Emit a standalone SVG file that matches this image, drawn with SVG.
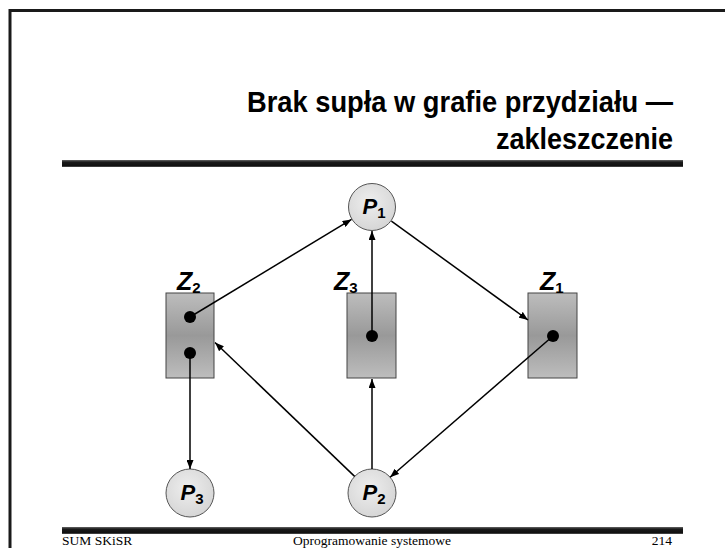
<svg xmlns="http://www.w3.org/2000/svg" width="725" height="548" viewBox="0 0 725 548">
<defs>
<linearGradient id="bar" x1="0" y1="0" x2="0" y2="1">
<stop offset="0" stop-color="#666"/><stop offset="0.3" stop-color="#1a1a1a"/><stop offset="0.8" stop-color="#111"/><stop offset="1" stop-color="#555"/>
</linearGradient>
<linearGradient id="res" x1="0" y1="0" x2="0" y2="1">
<stop offset="0" stop-color="#bdbdbd"/><stop offset="0.5" stop-color="#999"/><stop offset="1" stop-color="#bdbdbd"/>
</linearGradient>
<radialGradient id="proc" cx="0.45" cy="0.4" r="0.6">
<stop offset="0" stop-color="#eeeeee"/><stop offset="1" stop-color="#d6d6d6"/>
</radialGradient>
<marker id="ah" markerUnits="userSpaceOnUse" markerWidth="9" markerHeight="7" refX="9" refY="3.5" orient="auto">
<path d="M0,0 L9,3.5 L0,7 z" fill="#000"/>
</marker>
</defs>
<style>
.title{font-family:"Liberation Sans",Arial,sans-serif;font-weight:bold;font-size:29px;fill:#000}
.foot{font-family:"Liberation Serif","Times New Roman",serif;font-size:13.5px;fill:#000}
.lbl{font-family:"Liberation Sans",Arial,sans-serif;font-weight:bold;font-style:italic;font-size:22px;fill:#000}
.zl{font-size:25px}
.sub{font-style:normal;font-size:15px}
.res{fill:url(#res);stroke:#444;stroke-width:1}
.proc{fill:url(#proc);stroke:#555;stroke-width:1}
.dot{fill:#000}
.edge{stroke:#000;stroke-width:1.5;fill:none;marker-end:url(#ah)}
</style>
<rect x="0" y="0" width="725" height="548" fill="#fff"/>
<path d="M10,548 V10.5 H725" fill="none" stroke="#1a1a1a" stroke-width="3"/>
<text class="title" x="673" y="112" text-anchor="end" textLength="426" lengthAdjust="spacingAndGlyphs">Brak supła w grafie przydziału —</text>
<text class="title" x="673" y="149" text-anchor="end" textLength="177" lengthAdjust="spacingAndGlyphs">zakleszczenie</text>
<rect x="62" y="160" width="621" height="7" fill="url(#bar)"/>
<rect x="62" y="527" width="621" height="7" fill="url(#bar)"/>
<text class="foot" x="62" y="545">SUM SKiSR</text>
<text class="foot" x="372" y="545" text-anchor="middle">Oprogramowanie systemowe</text>
<text class="foot" x="672" y="545" text-anchor="end">214</text>
<g id="Z2">
<rect class="res" x="166" y="293" width="48" height="85"/>
<circle class="dot" cx="190" cy="317" r="6"/>
<circle class="dot" cx="190" cy="353" r="6"/>
<text class="lbl zl" x="177" y="290">Z<tspan class="sub" dy="3">2</tspan></text>
</g>
<g id="Z3">
<rect class="res" x="347" y="293" width="49" height="85"/>
<circle class="dot" cx="372" cy="336" r="6"/>
<text class="lbl zl" x="334" y="290">Z<tspan class="sub" dy="3">3</tspan></text>
</g>
<g id="Z1">
<rect class="res" x="528" y="293" width="49" height="85"/>
<circle class="dot" cx="553" cy="336" r="6"/>
<text class="lbl zl" x="540" y="290">Z<tspan class="sub" dy="3">1</tspan></text>
</g>
<g id="P1">
<circle class="proc" cx="372" cy="207" r="23.5"/>
<text class="lbl" x="374" y="214" text-anchor="middle">P<tspan class="sub" dy="4">1</tspan></text>
</g>
<g id="P3">
<circle class="proc" cx="190" cy="493" r="24"/>
<text class="lbl" x="192" y="500" text-anchor="middle">P<tspan class="sub" dy="4">3</tspan></text>
</g>
<g id="P2">
<circle class="proc" cx="372" cy="493" r="24"/>
<text class="lbl" x="374" y="500" text-anchor="middle">P<tspan class="sub" dy="4">2</tspan></text>
</g>
<g id="connectors">
<line class="edge" x1="190" y1="317" x2="351.5" y2="219.4"/>
<line class="edge" x1="372" y1="336" x2="372" y2="231"/>
<line class="edge" x1="391.4" y1="221.1" x2="528" y2="320"/>
<line class="edge" x1="553" y1="336" x2="390.1" y2="477.3"/>
<line class="edge" x1="372" y1="469" x2="372" y2="379"/>
<line class="edge" x1="354.6" y1="476.4" x2="215" y2="342.5"/>
<line class="edge" x1="190" y1="353" x2="190" y2="469"/>
</g>
</svg>
